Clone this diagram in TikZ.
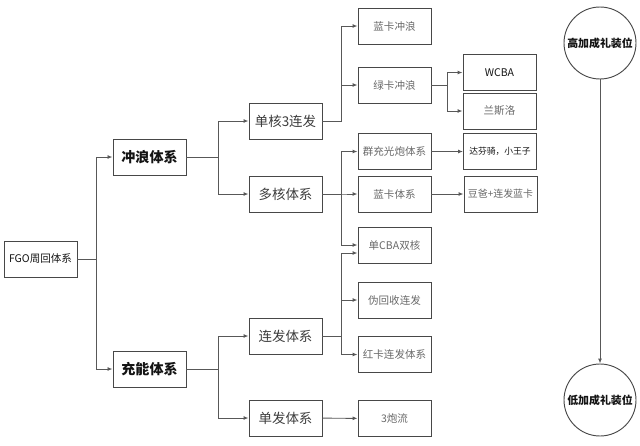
\documentclass[tikz,border=0pt]{standalone}
\usepackage{fontspec}
\usepackage{tikz}
\usetikzlibrary{arrows.meta,positioning,calc}
\newfontfamily\cjkfont{Noto Sans CJK SC}
\definecolor{linegray}{RGB}{88,88,88}
\definecolor{boxgray}{RGB}{72,72,72}
\definecolor{textdark}{RGB}{20,20,20}
\definecolor{textmid}{RGB}{60,60,60}
\definecolor{textlight}{RGB}{105,105,105}
\tikzset{
  sysbox/.style={rectangle,draw=boxgray,line width=0.8pt,fill=white,
    minimum width=2.19cm,minimum height=1.08cm,inner sep=1pt,align=center,
    font=\cjkfont\fontsize{#1}{#1}\selectfont},
  topbox/.style={sysbox=12,text=textdark,
    font=\cjkfont\bfseries\fontsize{12}{12}\selectfont},
  slotcircle/.style={circle,draw=boxgray,line width=0.8pt,fill=white,
    minimum size=2.16cm,inner sep=0pt,align=center,
    font=\cjkfont\bfseries\fontsize{9.3}{9.3}\selectfont,text=textdark},
  link/.style={-{Latex[length=1.5mm,width=1.2mm]},line width=0.8pt,color=linegray},
}

\begin{document}
\begin{tikzpicture}[x=0.03cm,y=-0.03cm]
\useasboundingbox (0,0) rectangle (640,446);

% ── Root and first level ─────────────────────────────────────────────────
\node[sysbox=9, text=textdark] (fgo) at (40.5,259) {FGO周回体系};
\node[topbox] (clx) at (149.5,157) {冲浪体系};
\node[topbox] (cnx) at (149.5,369) {充能体系};

% ── Second level ─────────────────────────────────────────────────────────
\node[sysbox=11.5, text=textmid] (dh3) at (285.5,121) {单核3连发};
\node[sysbox=11.5, text=textmid] (dhx) at (285.5,194) {多核体系};
\node[sysbox=11.5, text=textmid] (lfx) at (285.5,336) {连发体系};
\node[sysbox=11.5, text=textmid] (dfx) at (285.5,418) {单发体系};

% ── Third level ──────────────────────────────────────────────────────────
\node[sysbox=9, text=textlight] (lkcl) at (394.5,26)  {蓝卡冲浪};
\node[sysbox=9, text=textlight] (lvcl) at (394.5,85)  {绿卡冲浪};
\node[sysbox=9, text=textlight] (qcgp) at (394.5,151.5) {群充光炮体系};
\node[sysbox=9, text=textlight] (lktx) at (394.5,194) {蓝卡体系};
\node[sysbox=9, text=textlight] (dcba) at (394.5,245) {单CBA双核};
\node[sysbox=9, text=textlight] (whs)  at (394.5,300) {伪回收连发};
\node[sysbox=9, text=textlight] (hklf) at (394.5,354.5) {红卡连发体系};
\node[sysbox=9, text=textlight] (pl3)  at (394.5,418.5) {3炮流};

% ── Fourth level ─────────────────────────────────────────────────────────
\node[sysbox=9, text=textdark]  (wcba) at (499.5,72.5) {WCBA};
\node[sysbox=9, text=textlight] (lsl)  at (499.5,111)  {兰斯洛};
\node[sysbox=7.5, text=textdark] (dfq) at (500,151.5)  {达芬骑，小王子};
\node[sysbox=8.5, text=textlight] (dbb) at (500.5,194) {豆爸+连发蓝卡};

% ── Craft essence slots ──────────────────────────────────────────────────
\node[slotcircle] (hi) at (600,43)  {高加成礼装位};
\node[slotcircle] (lo) at (600,400) {低加成礼装位};

% ── Tree connectors ──────────────────────────────────────────────────────
\foreach \a/\b/\d in {fgo/clx/19, fgo/cnx/19, clx/dh3/32, clx/dhx/32,
                      cnx/lfx/32, cnx/dfx/32, dh3/lkcl/19, dh3/lvcl/19,
                      lvcl/wcba/16, lvcl/lsl/16, dhx/qcgp/19, dhx/lktx/19,
                      dhx/dcba/19, lfx/whs/19, lfx/hklf/19}
  \draw[link] (\a.east) -- ++(\d,0) |- (\b.west);
\draw[link] (lfx.east) -- ++(19,0) |- ([yshift=-2.4mm]dcba.west);

\foreach \a/\b in {qcgp/dfq, lktx/dbb, dfx/pl3}
  \draw[link] (\a) -- (\b);

\draw[link] (hi) -- (lo);

\end{tikzpicture}
\end{document}
